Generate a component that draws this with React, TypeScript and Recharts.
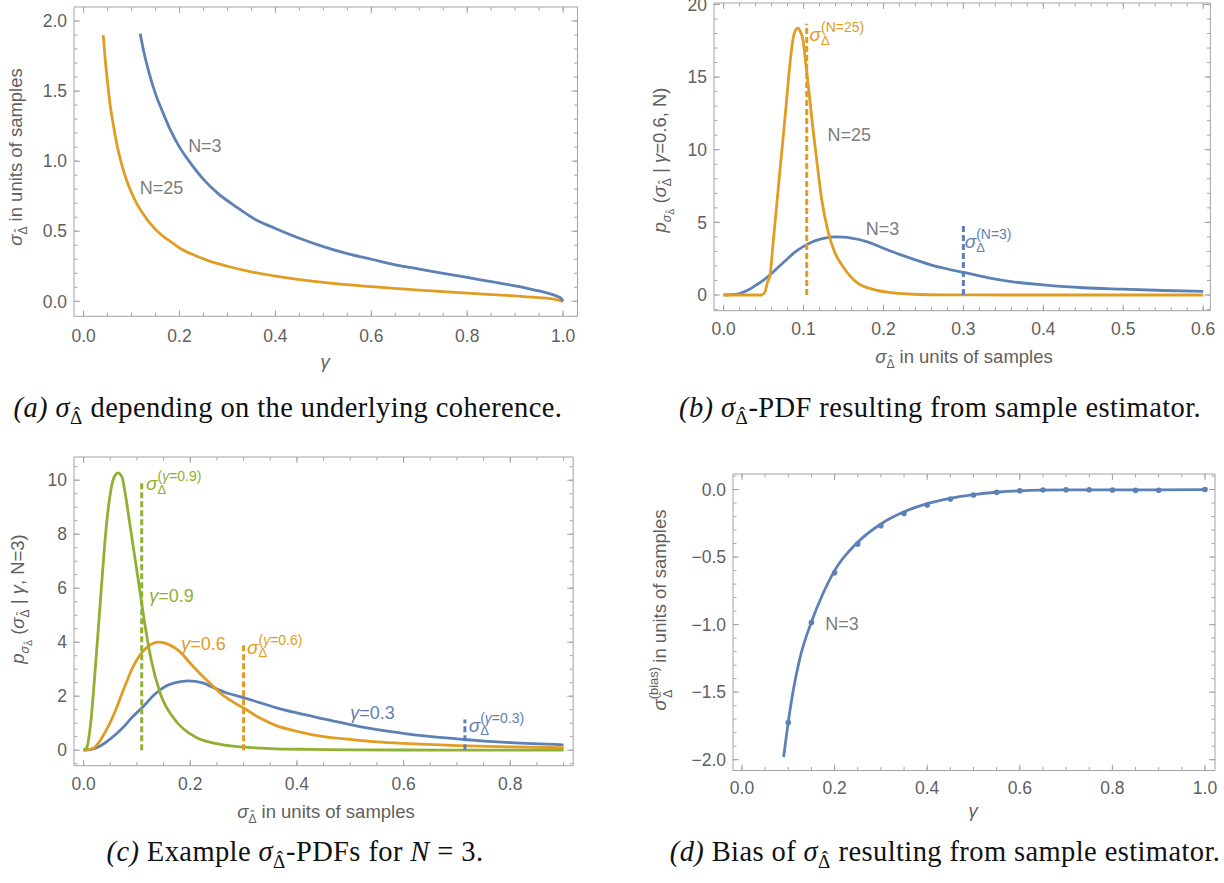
import React from 'react';
import { ComposedChart, Line, XAxis, YAxis, ReferenceLine, ReferenceDot } from 'recharts';

const BLUE = '#5e81b5';
const ORANGE = '#e19c24';
const GREEN = '#8fb032';
const FRAME = '#a3a3a3';
const TICK_TEXT = '#5f5f5f';
const NOTE = '#7d7d7d';
const SANS = '"Liberation Sans", Arial, sans-serif';
const SERIF = '"Liberation Serif", "Times New Roman", serif';

// (a) sigma depending on coherence
const aGammaN3 = [0.118, 0.125, 0.135, 0.15, 0.165, 0.18, 0.2, 0.22, 0.25, 0.28, 0.32, 0.36, 0.4, 0.45, 0.5, 0.55, 0.6, 0.65, 0.7, 0.75, 0.8, 0.85, 0.9, 0.93, 0.95, 0.97, 0.98, 0.99, 0.995, 1.0];
const aSigmaN3 = [1.91, 1.79, 1.65, 1.48, 1.35, 1.23, 1.1, 1.0, 0.87, 0.77, 0.67, 0.58, 0.52, 0.45, 0.39, 0.34, 0.3, 0.26, 0.23, 0.2, 0.17, 0.14, 0.11, 0.089, 0.074, 0.056, 0.046, 0.032, 0.023, 0];
const aGammaN25 = [0.041, 0.045, 0.05, 0.055, 0.06, 0.07, 0.08, 0.09, 0.1, 0.112, 0.125, 0.14, 0.16, 0.18, 0.2, 0.23, 0.26, 0.3, 0.35, 0.4, 0.5, 0.6, 0.7, 0.8, 0.9, 0.95, 0.98, 1.0];
const aSigmaN25 = [1.9, 1.73, 1.56, 1.41, 1.3, 1.11, 0.97, 0.86, 0.775, 0.69, 0.62, 0.55, 0.48, 0.43, 0.38, 0.33, 0.29, 0.25, 0.21, 0.18, 0.135, 0.104, 0.08, 0.058, 0.038, 0.026, 0.016, 0];

// (b) PDF for gamma = 0.6, N = 25
const bSigmaN25 = [0, 0.02, 0.04, 0.0475, 0.0517, 0.055, 0.0579, 0.062, 0.0661, 0.0702, 0.0744, 0.0785, 0.0826, 0.0868, 0.0909, 0.093, 0.0963, 0.0992, 0.1033, 0.1074, 0.1124, 0.1178, 0.1227, 0.131, 0.1393, 0.1488, 0.1674, 0.188, 0.2128, 0.2376, 0.28, 0.35, 0.45, 0.6];
const bPdfN25 = [0, 0, 0, 0, 0.2, 0.9, 1.3, 3.6, 6.0, 8.4, 10.8, 13.2, 15.7, 17.6, 18.3, 18.37, 18.1, 17.6, 15.7, 13.7, 11.15, 8.7, 6.6, 4.3, 2.9, 2.0, 0.83, 0.37, 0.14, 0.05, 0.01, 0, 0, 0];

// PDF for gamma = 0.6, N = 3 (shown in (b) and (c))
const pdfSigma = [0, 0.01, 0.02, 0.03, 0.04, 0.05, 0.06, 0.07, 0.08, 0.09, 0.1, 0.11, 0.12, 0.13, 0.14, 0.15, 0.16, 0.18, 0.2, 0.22, 0.24, 0.26, 0.28, 0.3, 0.33, 0.36, 0.4, 0.45, 0.5, 0.55, 0.6, 0.7, 0.8, 0.9];
const pdfG06 = [0, 0.02, 0.1, 0.32, 0.66, 1.03, 1.48, 2.0, 2.5, 2.98, 3.35, 3.63, 3.83, 3.95, 4.0, 3.98, 3.91, 3.66, 3.22, 2.8, 2.42, 2.06, 1.79, 1.56, 1.2, 0.92, 0.7, 0.5, 0.4, 0.31, 0.25, 0.17, 0.12, 0.09];

// (c) PDFs for N = 3
const cSigma03 = [0, 0.012, 0.022, 0.035, 0.047, 0.06, 0.072, 0.091, 0.11, 0.134, 0.153, 0.172, 0.197, 0.222, 0.247, 0.272, 0.3, 0.33, 0.36, 0.4, 0.45, 0.5, 0.56, 0.62, 0.7, 0.8, 0.9];
const cPdf03 = [0, 0.02, 0.07, 0.2, 0.37, 0.58, 0.8, 1.22, 1.58, 2.08, 2.36, 2.5, 2.57, 2.5, 2.29, 2.1, 1.95, 1.76, 1.58, 1.38, 1.16, 0.95, 0.73, 0.57, 0.42, 0.28, 0.2];
const cSigma09 = [0, 0.006, 0.0125, 0.0231, 0.0325, 0.0425, 0.05, 0.0563, 0.0644, 0.0719, 0.0781, 0.0875, 0.0969, 0.1063, 0.1156, 0.1269, 0.1438, 0.1719, 0.2094, 0.2469, 0.2969, 0.35, 0.42, 0.5, 0.6, 0.75, 0.9];
const cPdf09 = [0, 0.1, 0.86, 3.33, 5.8, 8.27, 9.5, 10.06, 10.27, 10.12, 9.5, 8.27, 7.04, 5.8, 4.57, 3.33, 2.1, 1.11, 0.49, 0.25, 0.12, 0.06, 0.03, 0.015, 0.008, 0.003, 0.001];

// (d) bias
const dGamma = [0.09, 0.1, 0.11, 0.125, 0.15, 0.175, 0.2, 0.25, 0.3, 0.35, 0.4, 0.45, 0.5, 0.55, 0.6, 0.7, 0.8, 0.9, 1.0];
const dBias = [-1.98, -1.72, -1.5, -1.25, -0.98, -0.77, -0.6, -0.39, -0.255, -0.165, -0.105, -0.065, -0.038, -0.02, -0.01, -0.003, -0.002, -0.003, 0];
const dSimGamma = [0.1, 0.15, 0.2, 0.25, 0.3, 0.35, 0.4, 0.45, 0.5, 0.55, 0.6, 0.65, 0.7, 0.75, 0.8, 0.85, 0.9, 1.0];
const dSimBias = [-1.725, -0.984, -0.616, -0.404, -0.268, -0.178, -0.115, -0.07, -0.041, -0.021, -0.009, -0.004, -0.002, -0.002, -0.003, -0.006, -0.005, 0];

// dashed reference sigmas
const bDashX = [0.104, 0.3];
const bDashTop = [18.67, 4.84];
const cDashX = [0.109, 0.3, 0.715];
const cDashTop = [10.0, 3.97, 1.14];

// tick labels
const aXTicks = [0, 0.2, 0.4, 0.6, 0.8, 1.0];
const aYTicks = [0, 0.5, 1.0, 1.5, 2.0];
const bXTicks = [0, 0.1, 0.2, 0.3, 0.4, 0.5, 0.6];
const bYTicks = [0, 5, 10, 15, 20];
const cXTicks = [0, 0.2, 0.4, 0.6, 0.8];
const cYTicks = [0, 2, 4, 6, 8, 10];
const dXTicks = [0, 0.2, 0.4, 0.6, 0.8, 1.0];
const dYTicks = [0, -0.5, -1.0, -1.5, -2.0];

type Pt = { x: number; y: number };
const pts = (xs: number[], ys: number[]): Pt[] => xs.map((x, i) => ({ x, y: ys[i] }));

const steps = (from: number, to: number, step: number) => {
  const out: number[] = [];
  for (let i = 0; from + i * step <= to + 1e-9; i++) out.push(+(from + i * step).toFixed(4));
  return out;
};

const fmt1 = (v: number) => v.toFixed(1).replace('-', '\u2212');
const fmt0 = (v: number) => String(v);

interface Box {
  left: number;
  top: number;
  right: number;
  bottom: number;
}

interface PanelProps {
  box: Box;
  data: Pt[];
  xDomain: [number, number];
  yDomain: [number, number];
  xTicks: number[];
  yTicks: number[];
  xMinor: number[];
  yMinor: number[];
  xFmt: (v: number) => string;
  yFmt: (v: number) => string;
  xGap: number;
  children: React.ReactNode;
}

const PAD = { left: 70, top: 12, right: 16, bottom: 50 };
const THIN = 0.5; // mirrored frame axes need a non-zero size to be drawn
const blankTick = () => <g />;

function Panel({ box, data, xDomain, yDomain, xTicks, yTicks, xMinor, yMinor, xFmt, yFmt, xGap, children }: PanelProps) {
  const w = box.right - box.left;
  const h = box.bottom - box.top;
  const tickFont = { fill: TICK_TEXT, fontSize: 17.5, fontFamily: SANS };

  // frame: mirrored axes draw the inward major/minor ticks on all four sides
  const frameX = (id: string, orientation: 'top' | 'bottom', ticks: number[], size: number, line: boolean) => (
    <XAxis
      key={id}
      xAxisId={id}
      dataKey="x"
      orientation={orientation}
      mirror
      type="number"
      domain={xDomain}
      allowDataOverflow
      ticks={ticks}
      interval={0}
      tick={blankTick}
      tickSize={size}
      tickLine={{ stroke: FRAME }}
      axisLine={line ? { stroke: FRAME } : false}
      height={THIN}
    />
  );
  const frameY = (id: string, orientation: 'left' | 'right', ticks: number[], size: number, line: boolean) => (
    <YAxis
      key={id}
      yAxisId={id}
      dataKey="y"
      orientation={orientation}
      mirror
      type="number"
      domain={yDomain}
      allowDataOverflow
      ticks={ticks}
      interval={0}
      tick={blankTick}
      tickSize={size}
      tickLine={{ stroke: FRAME }}
      axisLine={line ? { stroke: FRAME } : false}
      width={THIN}
    />
  );

  return (
    <div style={{ position: 'absolute', left: box.left - PAD.left, top: box.top - PAD.top }}>
      <ComposedChart
        data={data}
        width={w + PAD.left + PAD.right}
        height={h + PAD.top + PAD.bottom}
        margin={{ top: PAD.top, right: PAD.right, bottom: PAD.bottom - 40, left: PAD.left - 60 }}
      >
        <XAxis
          xAxisId="x"
          dataKey="x"
          type="number"
          domain={xDomain}
          allowDataOverflow
          ticks={xTicks}
          interval={0}
          tickFormatter={xFmt}
          tick={tickFont}
          tickLine={false}
          axisLine={false}
          tickSize={0}
          tickMargin={xGap}
          height={40}
        />
        <YAxis
          yAxisId="y"
          type="number"
          domain={yDomain}
          allowDataOverflow
          ticks={yTicks}
          interval={0}
          tickFormatter={yFmt}
          tick={tickFont}
          tickLine={false}
          axisLine={false}
          tickSize={0}
          tickMargin={7}
          width={60}
        />
        {frameX('xbM', 'bottom', xTicks, 6, true)}
        {frameX('xbm', 'bottom', xMinor, 3, false)}
        {frameX('xtM', 'top', xTicks, 6, true)}
        {frameX('xtm', 'top', xMinor, 3, false)}
        {frameY('ylM', 'left', yTicks, 6, true)}
        {frameY('ylm', 'left', yMinor, 3, false)}
        {frameY('yrM', 'right', yTicks, 6, true)}
        {frameY('yrm', 'right', yMinor, 3, false)}
        {children}
      </ComposedChart>
    </div>
  );
}

const anchor = (p: any) => {
  const vb = p && p.viewBox ? p.viewBox : p;
  return { cx: vb.x + (vb.width || 0) / 2, cy: vb.y + (vb.height || 0) / 2 };
};

function note(key: string, x: number, y: number, content: React.ReactNode, color = NOTE) {
  return (
    <ReferenceDot
      key={key}
      xAxisId="x"
      yAxisId="y"
      x={x}
      y={y}
      r={0}
      fill="none"
      stroke="none"
      label={(p: any) => {
        const { cx, cy } = anchor(p);
        return (
          <text x={cx} y={cy} fill={color} fontFamily={SANS} fontSize={18} dominantBaseline="central">
            {content}
          </text>
        );
      }}
    />
  );
}

function sigmaTag(key: string, x: number, y: number, sup: React.ReactNode, color: string) {
  return (
    <ReferenceDot
      key={key}
      xAxisId="x"
      yAxisId="y"
      x={x}
      y={y}
      r={0}
      fill="none"
      stroke="none"
      label={(p: any) => {
        const { cx, cy } = anchor(p);
        return (
          <text fill={color} fontFamily={SANS}>
            <tspan x={cx} y={cy} fontSize={19} fontStyle="italic">σ</tspan>
            <tspan x={cx + 11.5} y={cy + 3.5} fontSize={13}>Δ</tspan>
            <tspan x={cx + 11.5} y={cy - 9} fontSize={14}>{sup}</tspan>
          </text>
        );
      }}
    />
  );
}

function dash(key: string, x: number, top: number, color: string) {
  return (
    <ReferenceLine
      key={key}
      xAxisId="x"
      yAxisId="y"
      segment={[{ x, y: 0 }, { x, y: top }]}
      stroke={color}
      strokeWidth={3}
      strokeDasharray="6 3"
    />
  );
}

function curve(data: Pt[], color: string) {
  return (
    <Line
      xAxisId="x"
      yAxisId="y"
      data={data}
      dataKey="y"
      type="monotone"
      stroke={color}
      strokeWidth={2.8}
      dot={false}
      activeDot={false}
      isAnimationActive={false}
    />
  );
}

const gammaSup = (v: string) => (
  <>
    (<tspan fontStyle="italic">γ</tspan>={v})
  </>
);

interface HatOpts {
  size: number;
  shift: number; // baseline drop of the subscript
  next: string; // text that follows, back on the outer baseline
  serif?: boolean;
  preDx?: number;
  preDy?: number;
  nextDx?: number;
  nextDy?: number;
}

// subscript Δ with a separately placed circumflex over it
function subHat({ size, shift, next, serif = false, preDx = 0, preDy = 0, nextDx = 0, nextDy = 0 }: HatOpts) {
  const dw = serif ? 0.61 : 0.67; // Delta advance (em)
  const hw = 0.333; // circumflex advance (em)
  const lift = serif ? 0.2 : 0.22;
  return (
    <>
      <tspan fontSize={size} dx={preDx} dy={shift + preDy} fontStyle="normal">Δ</tspan>
      <tspan fontSize={size} dx={(-(dw + hw) / 2) * size} dy={-lift * size} fontStyle="normal">ˆ</tspan>
      <tspan dx={((dw - hw) / 2) * size + nextDx} dy={lift * size - shift + nextDy}>{next}</tspan>
    </>
  );
}

function Titles() {
  const t = { fontFamily: SANS, fontSize: 18.5, fill: TICK_TEXT };
  const c = { fontFamily: SERIF, fontSize: 28.5, fill: '#111', letterSpacing: 0.4 };
  const units = ' in units of samples';
  return (
    <svg width={1224} height={883} style={{ position: 'absolute', left: 0, top: 0, pointerEvents: 'none' }}>
      {/* (a) */}
      <text transform="translate(22,157) rotate(-90)" textAnchor="middle" {...t}>
        <tspan fontStyle="italic">σ</tspan>
        {subHat({ size: 12, shift: 5, next: units })}
      </text>
      <text x={325} y={368} textAnchor="middle" {...t} fontStyle="italic">γ</text>

      {/* (b) */}
      <text transform="translate(666,160) rotate(-90)" textAnchor="middle" {...t}>
        <tspan fontStyle="italic">p</tspan>
        <tspan fontSize={12.5} fontStyle="italic" dy={5}>σ</tspan>
        {subHat({ size: 9, shift: 3, next: ' (', nextDy: -5 })}
        <tspan fontStyle="italic">σ</tspan>
        {subHat({ size: 12, shift: 5, next: ' | ' })}
        <tspan fontStyle="italic">γ</tspan>
        <tspan>=0.6, N)</tspan>
      </text>
      <text x={964} y={363} textAnchor="middle" {...t}>
        <tspan fontStyle="italic">σ</tspan>
        {subHat({ size: 12, shift: 5, next: units })}
      </text>

      {/* (c) */}
      <text transform="translate(24,599) rotate(-90)" textAnchor="middle" {...t}>
        <tspan fontStyle="italic">p</tspan>
        <tspan fontSize={12.5} fontStyle="italic" dy={5}>σ</tspan>
        {subHat({ size: 9, shift: 3, next: ' (', nextDy: -5 })}
        <tspan fontStyle="italic">σ</tspan>
        {subHat({ size: 12, shift: 5, next: ' | ' })}
        <tspan fontStyle="italic">γ</tspan>
        <tspan>, N=3)</tspan>
      </text>
      <text x={326} y={818} textAnchor="middle" {...t}>
        <tspan fontStyle="italic">σ</tspan>
        {subHat({ size: 12, shift: 5, next: units })}
      </text>

      {/* (d) */}
      <text transform="translate(666,610) rotate(-90)" textAnchor="middle" {...t}>
        <tspan fontStyle="italic">σ</tspan>
        <tspan fontSize={13} dy={-8}>(bias)</tspan>
        {subHat({ size: 12, shift: 6, preDx: -31, preDy: 8, next: units, nextDx: 22 })}
      </text>
      <text x={973} y={817} textAnchor="middle" {...t} fontStyle="italic">γ</text>

      {/* captions */}
      <text x={288} y={417} textAnchor="middle" {...c}>
        <tspan fontStyle="italic">(a) σ</tspan>
        {subHat({ size: 19, shift: 7, serif: true, next: ' depending on the underlying coherence.' })}
      </text>
      <text x={940} y={417} textAnchor="middle" {...c}>
        <tspan fontStyle="italic">(b) σ</tspan>
        {subHat({ size: 19, shift: 7, serif: true, next: '-PDF resulting from sample estimator.' })}
      </text>
      <text x={295} y={861} textAnchor="middle" {...c}>
        <tspan fontStyle="italic">(c)</tspan>
        <tspan> Example </tspan>
        <tspan fontStyle="italic">σ</tspan>
        {subHat({ size: 19, shift: 7, serif: true, next: '-PDFs for ' })}
        <tspan fontStyle="italic">N</tspan>
        <tspan> = 3.</tspan>
      </text>
      <text x={945} y={861} textAnchor="middle" {...c}>
        <tspan fontStyle="italic">(d)</tspan>
        <tspan> Bias of </tspan>
        <tspan fontStyle="italic">σ</tspan>
        {subHat({ size: 19, shift: 7, serif: true, next: ' resulting from sample estimator.' })}
      </text>
    </svg>
  );
}

export default function App() {
  const aN3 = pts(aGammaN3, aSigmaN3);
  const bN3 = pts(pdfSigma.slice(0, 31), pdfG06.slice(0, 31));
  const c06 = pts(pdfSigma, pdfG06);
  const dLine = pts(dGamma, dBias);
  return (
    <div style={{ position: 'absolute', left: 0, top: 0, width: 1224, height: 883, background: '#fff', overflow: 'hidden' }}>
      <Panel
        box={{ left: 73.5, top: 6.7, right: 577, bottom: 316 }}
        data={aN3}
        xDomain={[-0.02, 1.03]}
        yDomain={[-0.107, 2.1]}
        xTicks={aXTicks}
        yTicks={aYTicks}
        xMinor={steps(0, 1, 0.05)}
        yMinor={steps(0, 2, 0.1)}
        xFmt={fmt1}
        yFmt={fmt1}
        xGap={13}
      >
        {curve(pts(aGammaN25, aSigmaN25), ORANGE)}
        {curve(aN3, BLUE)}
        {note('n3', 0.218, 1.11, 'N=3')}
        {note('n25', 0.117, 0.81, 'N=25')}
      </Panel>

      <Panel
        box={{ left: 713.6, top: 3.3, right: 1210, bottom: 311 }}
        data={bN3}
        xDomain={[-0.012, 0.609]}
        yDomain={[-1.08, 20.1]}
        xTicks={bXTicks}
        yTicks={bYTicks}
        xMinor={steps(0, 0.6, 0.02)}
        yMinor={steps(-1, 20, 1)}
        xFmt={fmt1}
        yFmt={fmt0}
        xGap={12}
      >
        {curve(bN3, BLUE)}
        {curve(pts(bSigmaN25, bPdfN25), ORANGE)}
        {dash('d25', bDashX[0], bDashTop[0], ORANGE)}
        {dash('d3', bDashX[1], bDashTop[1], BLUE)}
        {sigmaTag('s25', 0.1075, 17.45, '(N=25)', ORANGE)}
        {sigmaTag('s3', 0.3016, 3.23, '(N=3)', BLUE)}
        {note('bn25', 0.13, 11.03, 'N=25')}
        {note('bn3', 0.178, 4.54, 'N=3')}
      </Panel>

      <Panel
        box={{ left: 73.7, top: 456.8, right: 572.9, bottom: 765.5 }}
        data={c06}
        xDomain={[-0.018, 0.918]}
        yDomain={[-0.574, 10.86]}
        xTicks={cXTicks}
        yTicks={cYTicks}
        xMinor={steps(0, 0.9, 0.05)}
        yMinor={steps(-0.5, 10.5, 0.5)}
        xFmt={fmt1}
        yFmt={fmt0}
        xGap={12}
      >
        {curve(pts(cSigma03, cPdf03), BLUE)}
        {curve(c06, ORANGE)}
        {curve(pts(cSigma09, cPdf09), GREEN)}
        {dash('c09', cDashX[0], cDashTop[0], GREEN)}
        {dash('c06', cDashX[1], cDashTop[1], ORANGE)}
        {dash('c03', cDashX[2], cDashTop[2], BLUE)}
        {sigmaTag('t09', 0.117, 9.63, gammaSup('0.9'), GREEN)}
        {sigmaTag('t06', 0.3064, 3.58, gammaSup('0.6'), ORANGE)}
        {sigmaTag('t03', 0.722, 0.68, gammaSup('0.3'), BLUE)}
        {note('g09', 0.123, 5.71, <><tspan fontStyle="italic">γ</tspan>=0.9</>, GREEN)}
        {note('g06', 0.183, 3.95, <><tspan fontStyle="italic">γ</tspan>=0.6</>, ORANGE)}
        {note('g03', 0.5, 1.36, <><tspan fontStyle="italic">γ</tspan>=0.3</>, BLUE)}
      </Panel>

      <Panel
        box={{ left: 733, top: 474, right: 1215, bottom: 770.5 }}
        data={dLine}
        xDomain={[-0.0194, 1.0216]}
        yDomain={[-2.08, 0.115]}
        xTicks={dXTicks}
        yTicks={dYTicks}
        xMinor={steps(0, 1, 0.05)}
        yMinor={steps(-2, 0.1, 0.1)}
        xFmt={fmt1}
        yFmt={fmt1}
        xGap={11}
      >
        {curve(dLine, BLUE)}
        <Line
          xAxisId="x"
          yAxisId="y"
          data={pts(dSimGamma, dSimBias)}
          dataKey="y"
          stroke="none"
          dot={{ r: 2.8, fill: BLUE, stroke: 'none' }}
          activeDot={false}
          isAnimationActive={false}
        />
        {note('dn3', 0.18, -0.996, 'N=3')}
      </Panel>

      <Titles />
    </div>
  );
}
